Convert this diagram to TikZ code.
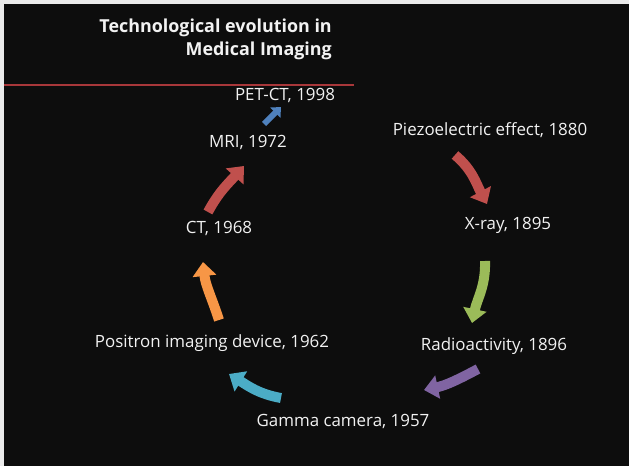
\documentclass[tikz,border=0pt]{standalone}
\usepackage{fontspec}
\setmainfont{Open Sans}
\usetikzlibrary{arrows.meta}
\definecolor{bg}{HTML}{0D0D0D}
\definecolor{txt}{HTML}{F2F2F2}
\definecolor{aRed}{HTML}{C0504D}
\definecolor{aGreen}{HTML}{9BBB59}
\definecolor{aPurple}{HTML}{8064A2}
\definecolor{aCyan}{HTML}{4BACC6}
\definecolor{aOrange}{HTML}{F79646}
\definecolor{aBlue}{HTML}{4F81BD}
\definecolor{lineRed}{HTML}{A8373A}
\tikzset{
  lbl/.style={text=txt, font=\fontsize{16.9}{20}\selectfont, inner sep=0pt, anchor=center},
  ttl/.style={text=txt, font=\fontsize{17.9}{21}\selectfont\bfseries, inner sep=0pt, anchor=east},
  bigarrow/.style={line width=10pt, -{Triangle[length=14pt,width=23pt]}},
  smallarrow/.style={line width=6pt, -{Triangle[length=8pt,width=14pt]}}
}
\begin{document}
\begin{tikzpicture}[x=1pt,y=1pt]
\useasboundingbox (0,0) rectangle (629,466);
\fill[white!92!black] (0,0) rectangle (629,466);
\fill[bg] (4,0) rectangle (629,462);
% title
\node[ttl] (t1) at (332,438) {Technological evolution in};
\node[ttl] (t2) at (332,415) {Medical Imaging};
\coordinate (l1) at (4,381);
\coordinate (l2) at (354,381);
\draw[lineRed, line width=1.3pt] (l1) -- (l2);
% labels
\node[lbl] (pet) at (285,371) {PET-CT, 1998};
\node[lbl] (mri) at (248,324) {MRI, 1972};
\node[lbl] (ct) at (219,238) {CT, 1968};
\node[lbl] (pos) at (212,123) {Positron imaging device, 1962};
\node[lbl] (gam) at (343,45) {Gamma camera, 1957};
\node[lbl] (rad) at (494,120) {Radioactivity, 1896};
\node[lbl] (xr) at (508,241) {X-ray, 1895};
\node[lbl] (pz) at (490,336) {Piezoelectric effect, 1880};
% arrow end points
\coordinate (a1s) at (455,311); \coordinate (a1e) at (487,262);
\coordinate (a2s) at (485,205); \coordinate (a2e) at (472,143);
\coordinate (a3s) at (478,97);  \coordinate (a3e) at (424,76);
\coordinate (a4s) at (281,68);  \coordinate (a4e) at (229,92);
\coordinate (a5s) at (219,146); \coordinate (a5e) at (203,204);
\coordinate (a6s) at (208,254); \coordinate (a6e) at (244,300);
\coordinate (a7s) at (264,342); \coordinate (a7e) at (281,359);
% arrows
\draw[bigarrow, aRed] (a1s) to[out=-40, in=118] (a1e);
\draw[bigarrow, aGreen] (a2s) to[out=-88, in=78] (a2e);
\draw[bigarrow, aPurple] (a3s) to[out=-152, in=12] (a3e);
\draw[bigarrow, aCyan] (a4s) to[out=170, in=-32] (a4e);
\draw[bigarrow, aOrange] (a5s) to[out=108, in=-84] (a5e);
\draw[bigarrow, aRed] (a6s) to[out=62, in=-132] (a6e);
\draw[smallarrow, aBlue] (a7s) -- (a7e);
\end{tikzpicture}
\end{document}
